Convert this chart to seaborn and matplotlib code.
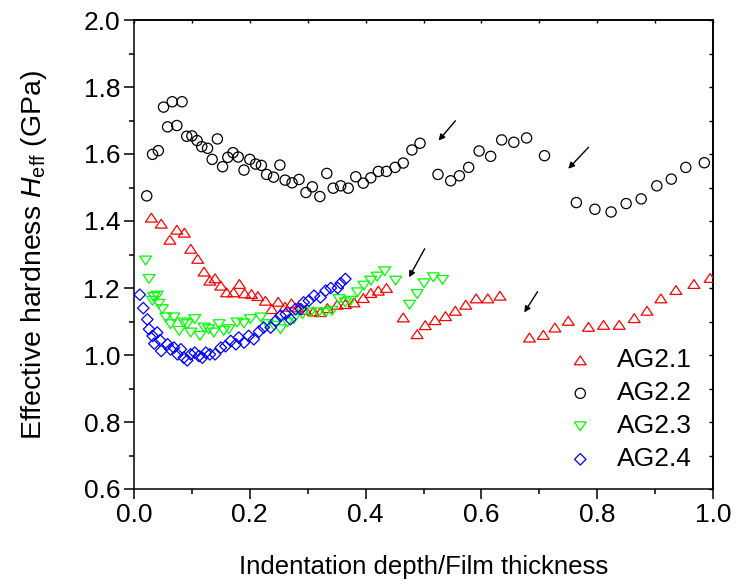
import numpy as np
import pandas as pd
import matplotlib
matplotlib.use("Agg")
import matplotlib.pyplot as plt
from matplotlib.path import Path
import seaborn as sns

# ---------------- data ----------------
ag21_x = [0.030, 0.047, 0.062, 0.074, 0.087, 0.098, 0.110, 0.121, 0.131, 0.140,
          0.150, 0.160, 0.172, 0.182, 0.191, 0.203, 0.214, 0.227, 0.238, 0.249,
          0.261, 0.272, 0.283, 0.296, 0.310, 0.322, 0.334, 0.351, 0.365, 0.380,
          0.396, 0.409, 0.422, 0.436, 0.465, 0.489, 0.503, 0.520, 0.538, 0.555,
          0.573, 0.591, 0.611, 0.632, 0.683, 0.707, 0.727, 0.750, 0.785, 0.811,
          0.838, 0.864, 0.886, 0.910, 0.936, 0.967, 0.995]
ag21_y = [1.410, 1.392, 1.344, 1.374, 1.365, 1.317, 1.287, 1.249, 1.222, 1.229,
          1.207, 1.187, 1.187, 1.212, 1.184, 1.182, 1.176, 1.162, 1.137, 1.159,
          1.144, 1.154, 1.142, 1.135, 1.130, 1.128, 1.140, 1.150, 1.152, 1.157,
          1.170, 1.185, 1.192, 1.200, 1.112, 1.062, 1.089, 1.104, 1.116, 1.132,
          1.150, 1.169, 1.169, 1.177, 1.052, 1.060, 1.082, 1.102, 1.084, 1.090,
          1.090, 1.110, 1.132, 1.169, 1.194, 1.212, 1.230]

ag22_x = [0.022, 0.032, 0.042, 0.051, 0.058, 0.066, 0.074, 0.083, 0.091, 0.100,
          0.109, 0.117, 0.127, 0.135, 0.144, 0.153, 0.162, 0.171, 0.180, 0.190,
          0.200, 0.210, 0.220, 0.229, 0.241, 0.252, 0.261, 0.273, 0.285, 0.297,
          0.308, 0.321, 0.333, 0.344, 0.357, 0.370, 0.383, 0.396, 0.409, 0.422,
          0.436, 0.451, 0.465, 0.480, 0.494, 0.525, 0.547, 0.562, 0.578, 0.596,
          0.616, 0.635, 0.656, 0.678, 0.709, 0.764, 0.796, 0.824, 0.850, 0.876,
          0.903, 0.928, 0.953, 0.985]
ag22_y = [1.475, 1.599, 1.610, 1.740, 1.681, 1.756, 1.685, 1.756, 1.653, 1.654,
          1.640, 1.622, 1.617, 1.584, 1.645, 1.562, 1.590, 1.604, 1.591, 1.552,
          1.584, 1.570, 1.566, 1.539, 1.531, 1.567, 1.522, 1.514, 1.524, 1.485,
          1.502, 1.473, 1.542, 1.498, 1.505, 1.498, 1.532, 1.513, 1.529, 1.548,
          1.548, 1.560, 1.573, 1.612, 1.632, 1.539, 1.520, 1.535, 1.560, 1.609,
          1.593, 1.642, 1.635, 1.648, 1.595, 1.455, 1.435, 1.427, 1.452, 1.466,
          1.505, 1.525, 1.560, 1.574]

ag23_x = [0.020, 0.026, 0.032, 0.034, 0.040, 0.043, 0.049, 0.055, 0.063, 0.069,
          0.078, 0.086, 0.092, 0.098, 0.105, 0.114, 0.121, 0.129, 0.138, 0.147,
          0.155, 0.164, 0.178, 0.190, 0.201, 0.219, 0.230, 0.242, 0.253, 0.265,
          0.276, 0.291, 0.305, 0.319, 0.331, 0.342, 0.354, 0.365, 0.374, 0.386,
          0.397, 0.409, 0.420, 0.433, 0.452, 0.476, 0.489, 0.501, 0.517, 0.533]
ag23_y = [1.282, 1.227, 1.162, 1.173, 1.177, 1.153, 1.137, 1.112, 1.092, 1.112,
          1.072, 1.097, 1.092, 1.067, 1.107, 1.057, 1.082, 1.077, 1.067, 1.092,
          1.072, 1.077, 1.097, 1.094, 1.107, 1.112, 1.092, 1.087, 1.077, 1.097,
          1.107, 1.122, 1.127, 1.127, 1.127, 1.132, 1.167, 1.157, 1.162, 1.187,
          1.207, 1.222, 1.234, 1.250, 1.222, 1.150, 1.182, 1.214, 1.232, 1.224]

ag24_x = [0.010, 0.016, 0.023, 0.026, 0.032, 0.035, 0.040, 0.045, 0.047, 0.058,
          0.063, 0.069, 0.075, 0.081, 0.086, 0.092, 0.098, 0.105, 0.112, 0.118,
          0.124, 0.131, 0.140, 0.150, 0.158, 0.167, 0.176, 0.181, 0.190, 0.198,
          0.207, 0.216, 0.224, 0.236, 0.245, 0.253, 0.262, 0.270, 0.279, 0.288,
          0.293, 0.302, 0.311, 0.322, 0.331, 0.340, 0.352, 0.357, 0.365]
ag24_y = [1.180, 1.140, 1.106, 1.077, 1.057, 1.034, 1.067, 1.044, 1.012, 1.032,
          1.017, 1.022, 1.002, 1.017, 0.992, 0.984, 1.002, 1.007, 0.997, 0.992,
          1.007, 1.002, 1.002, 1.022, 1.026, 1.042, 1.032, 1.052, 1.037, 1.057,
          1.047, 1.070, 1.082, 1.082, 1.102, 1.117, 1.122, 1.107, 1.137, 1.137,
          1.157, 1.162, 1.177, 1.172, 1.192, 1.200, 1.200, 1.214, 1.227]

series_names = ["AG2.1", "AG2.2", "AG2.3", "AG2.4"]
series_colors = ["#FF0000", "#000000", "#00FF00", "#0000FF"]

# arrows: (tail_x, tail_y, head_x, head_y) in data units
arrow_tail_x = [0.555, 0.785, 0.502, 0.697]
arrow_tail_y = [1.699, 1.620, 1.317, 1.189]
arrow_head_x = [0.526, 0.750, 0.475, 0.674]
arrow_head_y = [1.640, 1.556, 1.232, 1.127]

x_label = "Indentation depth/Film thickness"
y_label = r"Effective hardness $H_{\mathrm{eff}}$ (GPa)"

# ---------------- styling ----------------
sns.set_theme(style="ticks")
plt.rcParams["font.family"] = ["Liberation Sans", "DejaVu Sans"]
plt.rcParams["mathtext.fontset"] = "custom"
plt.rcParams["mathtext.rm"] = "Liberation Sans"
plt.rcParams["mathtext.it"] = "Liberation Sans:italic"
plt.rcParams["mathtext.bf"] = "Liberation Sans:bold"
for key in ["text.color", "axes.labelcolor", "xtick.color", "ytick.color",
            "xtick.labelcolor", "ytick.labelcolor", "axes.edgecolor"]:
    plt.rcParams[key] = "black"

up_tri = Path([(0, 0.75), (-1, -0.75), (1, -0.75), (0, 0.75)], closed=True)
down_tri = Path([(0, -0.75), (-1, 0.75), (1, 0.75), (0, -0.75)], closed=True)
series_markers = [up_tri, "o", down_tri, "D"]
series_sizes = [72, 54, 72, 34]

fig = plt.figure(figsize=(7.37, 5.87), dpi=100)
ax = fig.add_axes([134 / 737, 1 - 489 / 587, (713 - 134) / 737, (489 - 20) / 587])

frames = []
for name, xs, ys in zip(series_names,
                        [ag21_x, ag22_x, ag23_x, ag24_x],
                        [ag21_y, ag22_y, ag23_y, ag24_y]):
    frames.append(pd.DataFrame({"x": xs, "y": ys, "series": name}))
df = pd.concat(frames, ignore_index=True)

for name, col, mk, sz in zip(series_names, series_colors, series_markers, series_sizes):
    sub = df[df["series"] == name]
    sns.scatterplot(data=sub, x="x", y="y", ax=ax, marker=mk, s=sz,
                    color=col, facecolor="none", edgecolor=col,
                    linewidth=0.9, label=name, legend=False, zorder=3)

for tx, ty, hx, hy in zip(arrow_tail_x, arrow_tail_y, arrow_head_x, arrow_head_y):
    ax.annotate("", xy=(hx, hy), xytext=(tx, ty),
                arrowprops=dict(arrowstyle="-|>", color="black", lw=1.0,
                                mutation_scale=9, shrinkA=0, shrinkB=0))

ax.set_xlim(0.0, 1.0)
ax.set_ylim(0.6, 2.0)
ax.set_xticks(np.arange(0.0, 1.01, 0.2))
ax.set_xticks(np.arange(0.1, 1.0, 0.2), minor=True)
ax.set_yticks(np.arange(0.6, 2.01, 0.2))
ax.set_yticks(np.arange(0.7, 2.0, 0.2), minor=True)
ax.xaxis.set_major_formatter(matplotlib.ticker.FormatStrFormatter("%.1f"))
ax.yaxis.set_major_formatter(matplotlib.ticker.FormatStrFormatter("%.1f"))

for side in ["left", "right", "top", "bottom"]:
    ax.spines[side].set_visible(True)
    ax.spines[side].set_linewidth(1.1)
    ax.spines[side].set_color("black")

ax.tick_params(axis="both", which="major", direction="out", length=7, width=1.1,
               labelsize=19, pad=3, colors="black", labelcolor="black")
ax.tick_params(axis="both", which="minor", direction="out", length=3.5, width=1.1,
               colors="black")
# right / top inward ticks without labels
axr = ax.secondary_yaxis("right")
axr.set_yticks(np.arange(0.6, 2.01, 0.2))
axr.set_yticks(np.arange(0.7, 2.0, 0.2), minor=True)
axr.tick_params(which="both", direction="in", length=3, width=1.0, labelright=False)
axt = ax.secondary_xaxis("top")
axt.set_xticks(np.arange(0.0, 1.01, 0.2))
axt.set_xticks(np.arange(0.1, 1.0, 0.2), minor=True)
axt.tick_params(which="both", direction="in", length=2, width=1.0, labeltop=False)

ax.set_xlabel(x_label, fontsize=18.5, labelpad=20, color="black")
ax.set_ylabel(y_label, fontsize=20.5, labelpad=25, color="black")
ax.grid(False)

leg = ax.legend(loc="upper left", bbox_to_anchor=(0.748, 0.300), frameon=False,
                fontsize=19, handlelength=1.0, handletextpad=0.90,
                labelspacing=0.34, borderpad=0, borderaxespad=0, scatterpoints=1)
for t in leg.get_texts():
    t.set_color("black")

fig.savefig("out.png", dpi=100)
